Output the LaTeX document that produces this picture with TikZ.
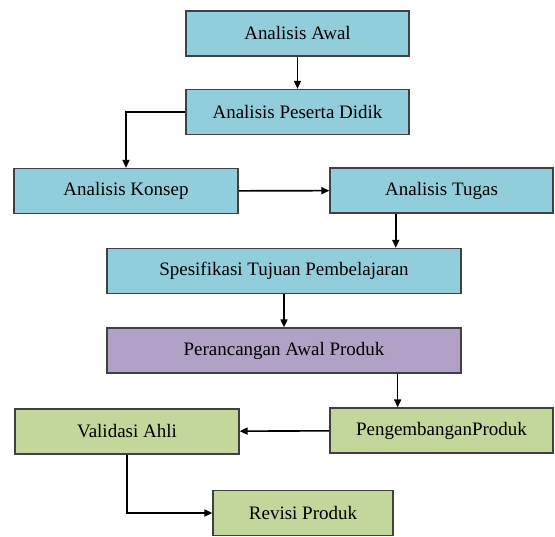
\documentclass[tikz,border=0pt]{standalone}
\usepackage{fontspec}
\setmainfont{Liberation Serif}
\usetikzlibrary{calc, arrows.meta}

\definecolor{boxblue}{HTML}{92CDDC}
\definecolor{boxpurple}{HTML}{B2A1C7}
\definecolor{boxgreen}{HTML}{C3D69B}

\tikzset{
  stage/.style={draw=black!75, line width=1.2pt, minimum height=45pt, inner sep=0pt,
    font=\fontsize{19}{23}\selectfont},
  flow/.style={line width=1.6pt, -{Triangle[length=8pt,width=7pt]}},
}

\begin{document}
\begin{tikzpicture}[x=1pt,y=-1pt]
\useasboundingbox (0,0) rectangle (555,537);
% Analysis stages
\node[stage, fill=boxblue, minimum width=223pt] (awal) at (297.5,33.5) {Analisis Awal};
\node[stage, fill=boxblue, minimum width=223pt] (peserta) at (297.5,112) {Analisis Peserta Didik};
\node[stage, fill=boxblue, minimum width=224pt] (konsep) at (126,191) {Analisis Konsep};
\node[stage, fill=boxblue, minimum width=223pt] (tugas) at (441.5,190.5) {Analisis Tugas};
\node[stage, fill=boxblue, minimum width=354pt] (spesifikasi) at (284,271) {Spesifikasi Tujuan Pembelajaran};
% Design stage
\node[stage, fill=boxpurple, minimum width=354pt] (rancang) at (284,350.5) {Perancangan Awal Produk};
% Development stages
\node[stage, fill=boxgreen, minimum width=224pt] (validasi) at (127,431.5) {Validasi Ahli};
\node[stage, fill=boxgreen, minimum width=223pt] (kembang) at (441.5,430.5) {PengembanganProduk};
\node[stage, fill=boxgreen, minimum width=180pt] (revisi) at (303,513) {Revisi Produk};
% Drop points off centre
\coordinate (drop1) at ($(tugas.south west)!0.296!(tugas.south east)$);
\coordinate (drop2) at ($(rancang.south west)!0.82!(rancang.south east)$);
% Connectors
\draw[flow] (awal) -- (peserta);
\draw[flow] (peserta.west) -| (konsep.north);
\draw[flow] (konsep) -- (tugas);
\draw[flow] (drop1) -- (drop1 |- spesifikasi.north);
\draw[flow] (spesifikasi) -- (rancang);
\draw[flow] (drop2) -- (drop2 |- kembang.north);
\draw[flow] (kembang) -- (validasi);
\draw[flow] (validasi.south) |- (revisi.west);
\end{tikzpicture}
\end{document}
